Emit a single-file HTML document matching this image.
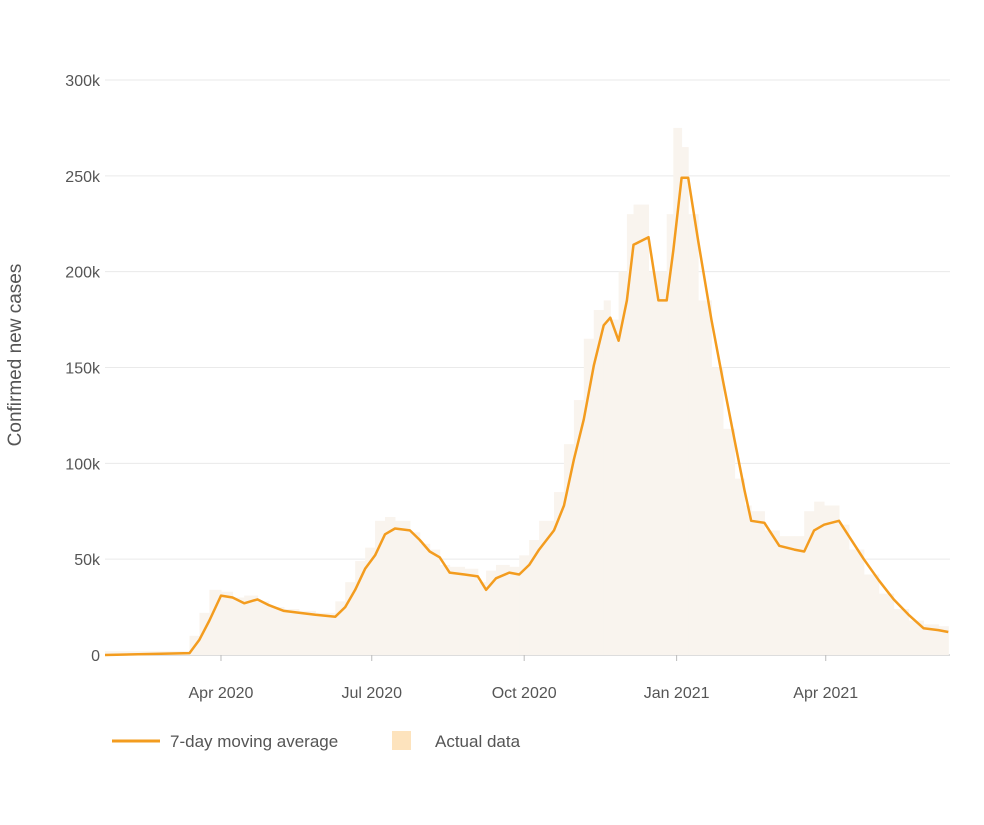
<!DOCTYPE html>
<html><head><meta charset="utf-8"><style>
body{margin:0;background:#fff;font-family:"Liberation Sans",sans-serif}
svg text{font-family:"Liberation Sans",sans-serif}
</style></head><body>
<svg id="chart" width="984" height="820" viewBox="0 0 984 820" xmlns="http://www.w3.org/2000/svg">
<g id="grid"></g>
<g id="bars"></g>
<g id="line"></g>
<g id="axes"></g>
<text transform="translate(21,355) rotate(-90)" text-anchor="middle" font-size="19" fill="#555">Confirmed new cases</text>
<g>
<g><line x1="112" y1="741" x2="160" y2="741" stroke="#f39c1f" stroke-width="3"/><text x="170" y="747" font-size="17" fill="#555">7-day moving average</text></g>
<g><rect x="392" y="731" width="19" height="19" fill="#fde3bd"/><text x="435" y="747" font-size="17" fill="#555">Actual data</text></g>
</g>
</svg>
<script>
const dates=["2020-01-22","2020-03-13","2020-03-19","2020-03-25","2020-04-01","2020-04-08","2020-04-15","2020-04-23","2020-04-30","2020-05-09","2020-05-18","2020-05-28","2020-06-09","2020-06-15","2020-06-21","2020-06-27","2020-07-03","2020-07-09","2020-07-15","2020-07-24","2020-07-30","2020-08-05","2020-08-11","2020-08-17","2020-08-26","2020-09-03","2020-09-08","2020-09-14","2020-09-22","2020-09-28","2020-10-04","2020-10-10","2020-10-19","2020-10-25","2020-10-31","2020-11-06","2020-11-12","2020-11-18","2020-11-22","2020-11-27","2020-12-02","2020-12-06","2020-12-15","2020-12-21","2020-12-26","2020-12-30","2021-01-04","2021-01-08","2021-01-14","2021-01-22","2021-01-29","2021-02-05","2021-02-11","2021-02-15","2021-02-23","2021-03-04","2021-03-13","2021-03-19","2021-03-25","2021-03-31","2021-04-09","2021-04-15","2021-04-24","2021-05-03","2021-05-12","2021-05-21","2021-05-30","2021-06-08","2021-06-14"];
const movingAvg=[0,1,8,18,31,30,27,29,26,23,22,21,20,25,34,45,52,63,66,65,60,54,51,43,42,41,34,40,43,42,47,55,65,78,102,123,151,172,176,164,185,214,218,185,185,211,249,249,216,175,143,112,86,70,69,57,55,54,65,68,70,62,50,39,29,21,14,13,12];
const actual=[0,2,10,22,34,33,30,31,28,25,24,23,22,28,38,49,56,70,72,70,64,58,55,47,46,45,38,44,47,46,52,60,70,85,110,133,165,180,185,175,200,230,235,200,200,230,275,265,230,185,150,118,92,78,75,65,62,62,75,80,78,68,55,42,32,24,18,16,15];
const yTicks=[0,50,100,150,200,250,300];
const yTickLabels=["0","50k","100k","150k","200k","250k","300k"];
const xTickDates=["2020-04-01","2020-07-01","2020-10-01","2021-01-01","2021-04-01"];
const xTickLabels=["Apr 2020","Jul 2020","Oct 2020","Jan 2021","Apr 2021"];

const NS="http://www.w3.org/2000/svg";
const t0=Date.parse("2020-01-22"), tEnd=Date.parse("2021-06-15");
const X0=105,X1=950,Y0=655,Y300=80;
function xs(d){return X0+(Date.parse(d)-t0)/(tEnd-t0)*(X1-X0);}
function ys(v){return Y0-(v/300)*(Y0-Y300);}
function mk(tag,attrs,parent){const e=document.createElementNS(NS,tag);for(const k in attrs)e.setAttribute(k,attrs[k]);parent.appendChild(e);return e;}
const grid=document.getElementById('grid'),axes=document.getElementById('axes'),bars=document.getElementById('bars'),line=document.getElementById('line');
yTicks.forEach((v,i)=>{
  const l=mk('line',{x1:X0,x2:X1,y1:ys(v),y2:ys(v),stroke:v===0?'#bbb':'#eaeaea','stroke-width':1},grid);
  
  
  const t=mk('text',{x:100,y:ys(v)+6,'text-anchor':'end','font-size':16,fill:'#555'},axes);
  t.textContent=yTickLabels[i];
  
  
});
xTickDates.forEach((d,i)=>{
  const x=xs(d);
  const tk=mk('line',{x1:x,x2:x,y1:Y0,y2:Y0+6,stroke:'#bbb'},axes);
  
  
  const t=mk('text',{x:x,y:698,'text-anchor':'middle','font-size':16,fill:'#555'},axes);
  t.textContent=xTickLabels[i];
  
  
});
for(let i=0;i<dates.length-1;i++){
  const xa=xs(dates[i]),xb=xs(dates[i+1]);
  const r=mk('rect',{x:xa,y:ys(actual[i+1]),width:xb-xa+0.5,height:Y0-ys(actual[i+1]),fill:'#f9f4ee'},bars);
  
  
}
const pts=dates.map((d,i)=>xs(d).toFixed(1)+','+ys(movingAvg[i]).toFixed(1)).join(' ');
const pl=mk('polyline',{points:pts,fill:'none',stroke:'#f39c1f','stroke-width':2.5,'stroke-linejoin':'round'},line);


</script>
</body></html>
